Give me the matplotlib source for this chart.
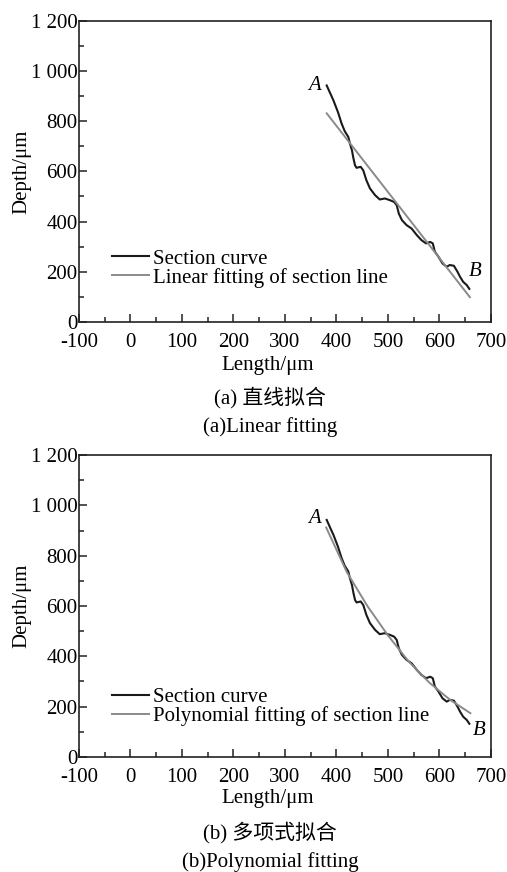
import matplotlib
matplotlib.use("Agg")
import matplotlib.pyplot as plt
from matplotlib.ticker import MultipleLocator, FixedLocator, FixedFormatter

plt.rcParams['font.family'] = ['Liberation Serif', 'Noto Sans CJK SC']

# Section curve (same in both panels)
curve_x = [381, 388, 394, 403, 410, 416, 423, 426, 430, 433, 436, 439, 447, 452,
           458, 465, 475, 484, 494, 504, 512, 517, 521, 527, 536, 546, 556, 565,
           574, 582, 587, 591, 598, 606, 614, 620, 628, 635, 640, 646, 653, 658]
curve_y = [942, 910, 883, 835, 790, 760, 737, 711, 684, 651, 624, 614, 618, 604,
           565, 532, 505, 488, 492, 485, 478, 465, 432, 406, 386, 372, 346, 326,
           313, 319, 313, 280, 260, 233, 220, 227, 224, 200, 180, 160, 147, 132]

# Linear fitting line (panel a)
lin_x = [381, 659]
lin_y = [831, 99]

# Polynomial fitting curve (panel b)
poly_x = [380, 420, 460, 500, 540, 580, 620, 660]
poly_y = [912, 735, 600, 483, 380, 296, 228, 174]

xticks = [-100, 0, 100, 200, 300, 400, 500, 600, 700]
xlabels = ['-100', '0', '100', '200', '300', '400', '500', '600', '700']
yticks = [0, 200, 400, 600, 800, 1000, 1200]
ylabels = ['0', '200', '400', '600', '800', '1 000', '1 200']

panels = [
    dict(rect=[0.1558, 0.6307, 0.8126, 0.3456], fit_x=lin_x, fit_y=lin_y,
         fit_label='Linear fitting of section line',
         A=(358, 942), B=(669, 200), leg_y=0.242,
         cap_cn='(a) 直线拟合', cap_en='(a)Linear fitting',
         y_len=365, y_cn=398, y_en=427),
    dict(rect=[0.1558, 0.1319, 0.8126, 0.3463], fit_x=poly_x, fit_y=poly_y,
         fit_label='Polynomial fitting of section line',
         A=(358, 946), B=(677, 107), leg_y=0.229,
         cap_cn='(b) 多项式拟合', cap_en='(b)Polynomial fitting',
         y_len=798, y_cn=833, y_en=862),
]

W, H = 507, 872
fig = plt.figure(figsize=(W / 100, H / 100), dpi=100)
fs = 15

for p in panels:
    ax = fig.add_axes(p['rect'])
    ax.plot(curve_x, curve_y, color='#1a1a1a', lw=1.5, label='Section curve')
    ax.plot(p['fit_x'], p['fit_y'], color='#8a8a8a', lw=1.4, label=p['fit_label'])
    ax.set_xlim(-100, 700)
    ax.set_ylim(0, 1200)
    ax.xaxis.set_major_locator(FixedLocator(xticks))
    ax.xaxis.set_major_formatter(FixedFormatter(xlabels))
    ax.yaxis.set_major_locator(FixedLocator(yticks))
    ax.yaxis.set_major_formatter(FixedFormatter(ylabels))
    ax.xaxis.set_minor_locator(MultipleLocator(50))
    ax.yaxis.set_minor_locator(MultipleLocator(100))
    ax.tick_params(which='both', direction='in', top=False, right=False,
                   labelsize=fs, width=1.1, color='#222222')
    ax.tick_params(axis='x', which='major', pad=8)
    ax.tick_params(axis='y', which='major', pad=1)
    ax.tick_params(which='major', length=6)
    ax.tick_params(which='minor', length=3.5)
    for s in ax.spines.values():
        s.set_linewidth(1.2)
        s.set_color('#222222')
    ax.set_ylabel('Depth/μm', fontsize=fs, labelpad=0)
    ax.yaxis.set_label_coords(-0.116, 0.5)
    ax.text(p['A'][0], p['A'][1], 'A', fontsize=fs, style='italic',
            ha='center', va='center')
    ax.text(p['B'][0], p['B'][1], 'B', fontsize=fs, style='italic',
            ha='center', va='center')
    ax.legend(loc='upper left', bbox_to_anchor=(0.08, p['leg_y']), frameon=False,
              fontsize=fs, handlelength=1.8, handletextpad=0.15,
              labelspacing=-0.05, borderaxespad=0, borderpad=0)
    fig.text(268 / W, 1 - p['y_len'] / H, 'Length/μm', fontsize=fs,
             ha='center', va='center')
    fig.text(270 / W, 1 - p['y_cn'] / H, p['cap_cn'], fontsize=fs,
             ha='center', va='center')
    fig.text(270 / W, 1 - p['y_en'] / H, p['cap_en'], fontsize=fs,
             ha='center', va='center')

fig.savefig('out.png', dpi=100)
